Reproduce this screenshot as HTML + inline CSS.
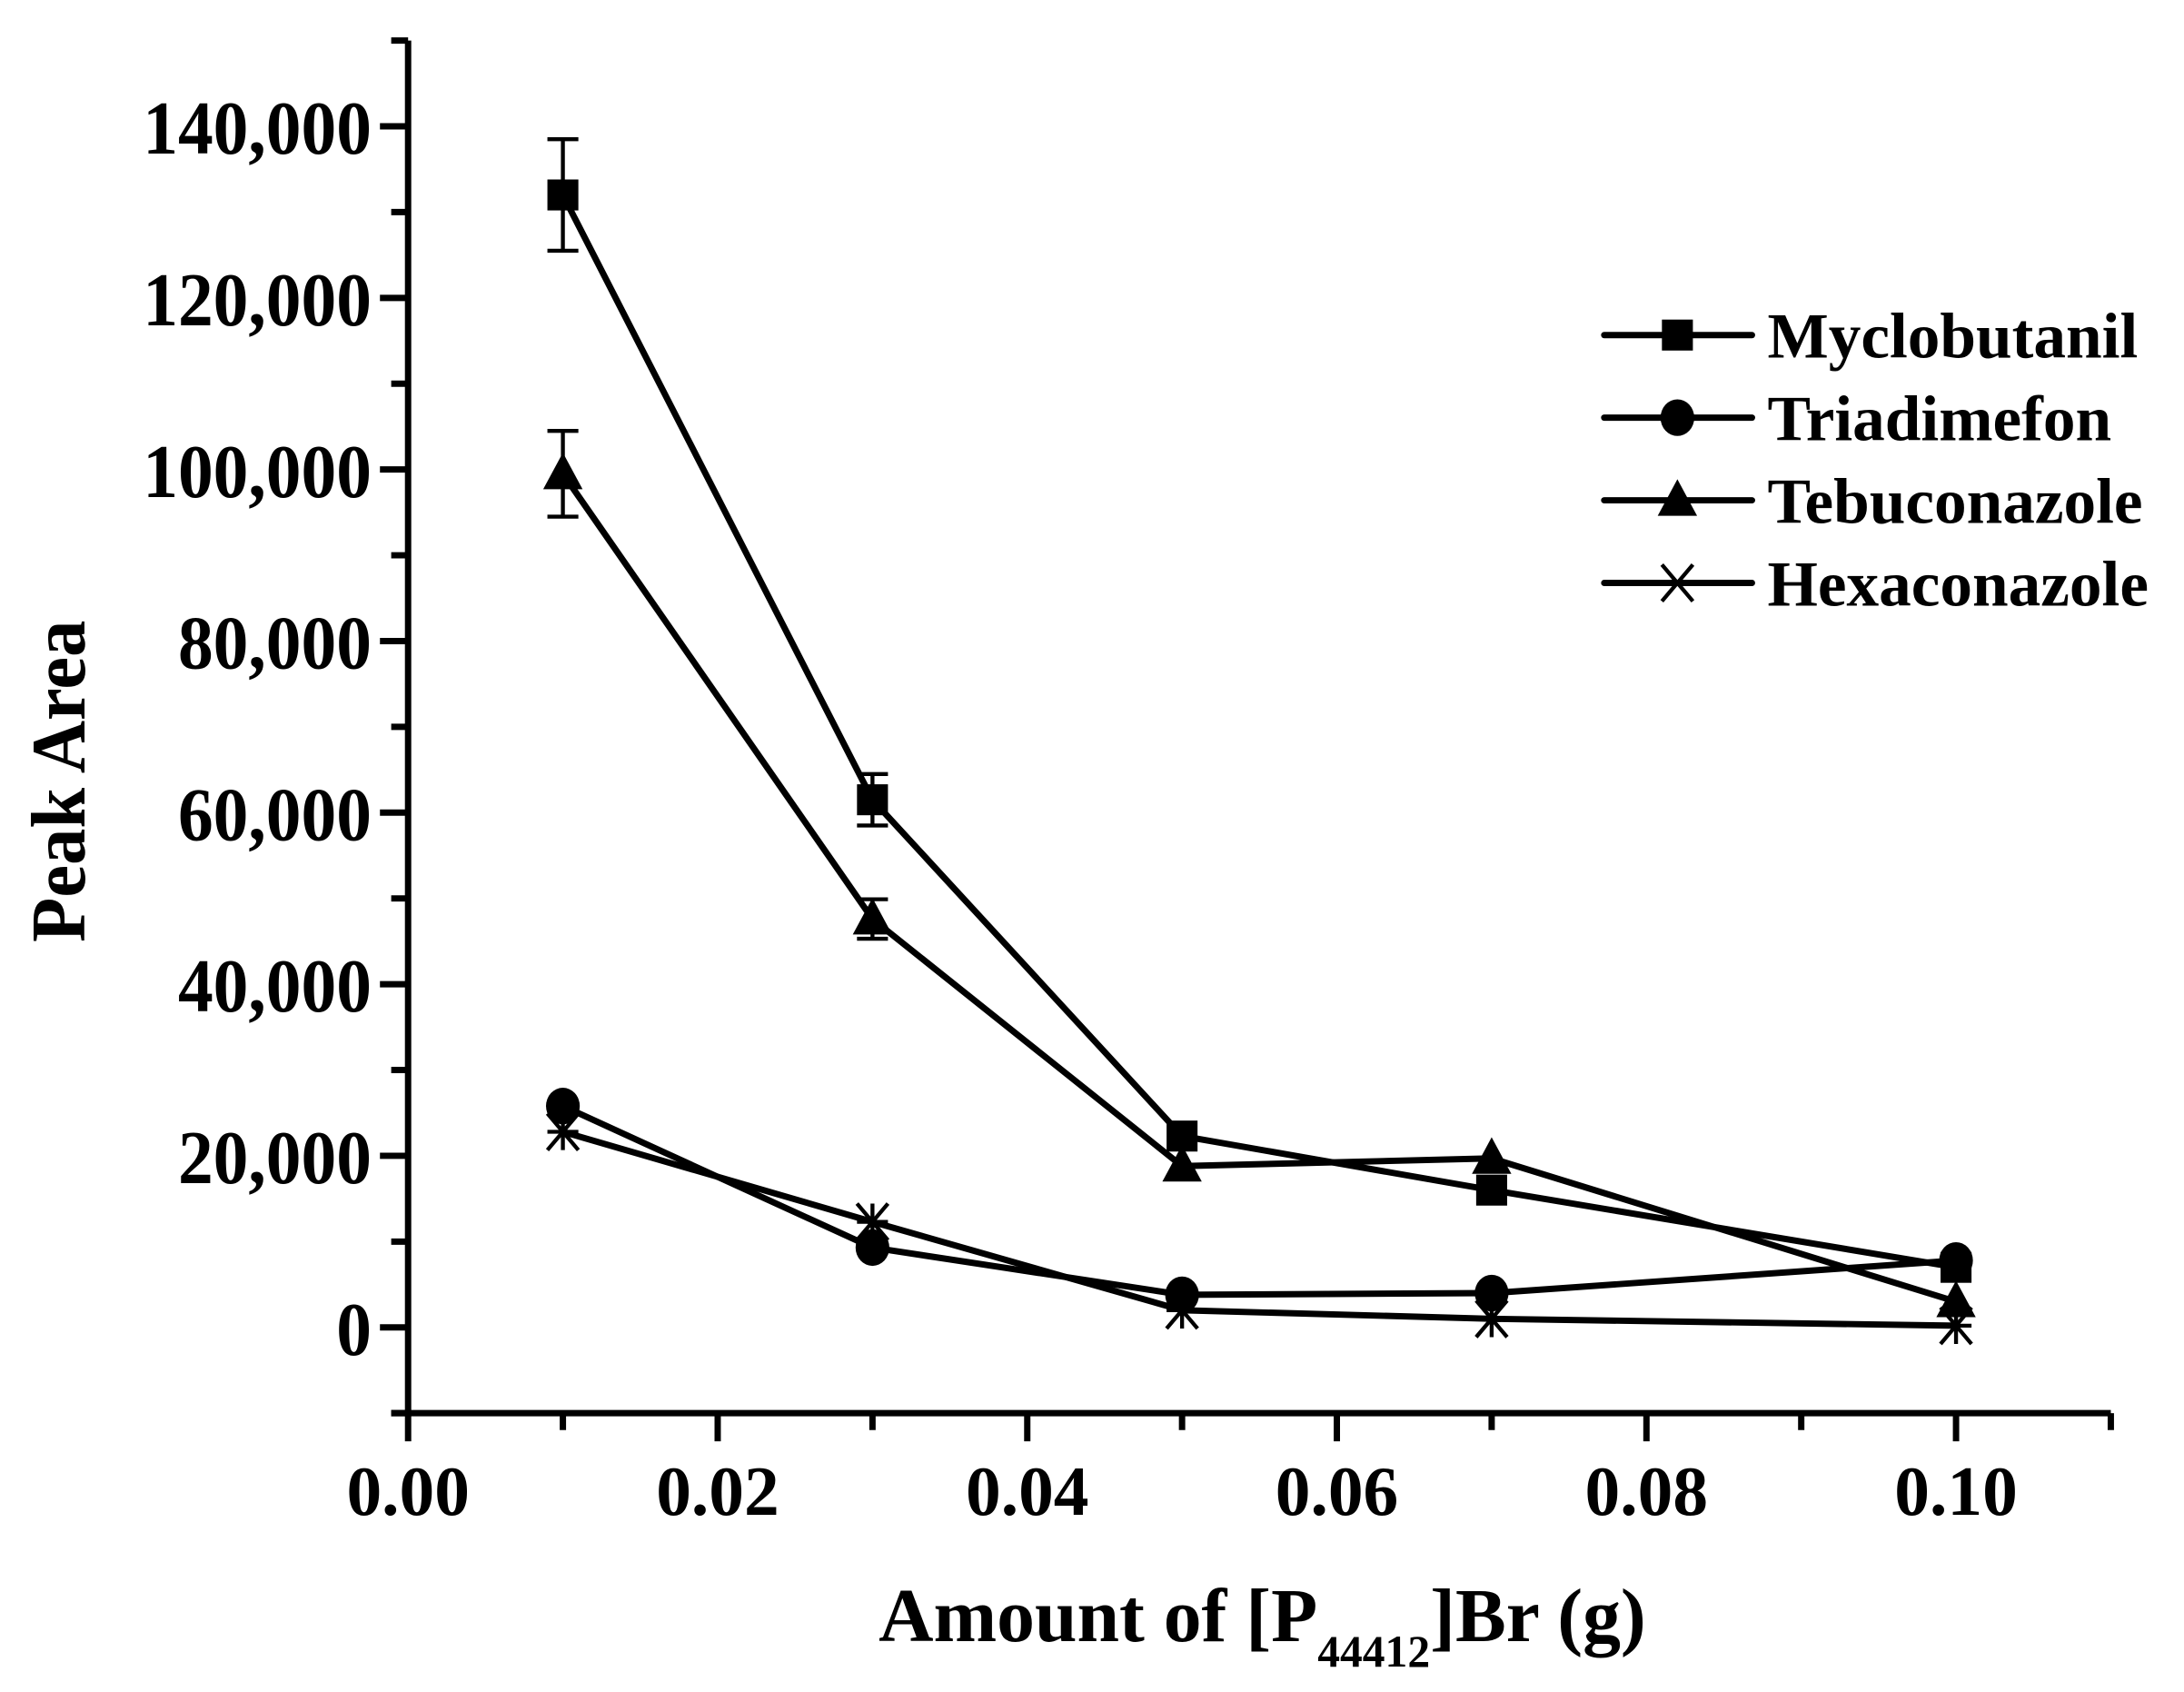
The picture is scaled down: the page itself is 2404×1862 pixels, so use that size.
<!DOCTYPE html>
<html><head><meta charset="utf-8"><style>
html,body{margin:0;padding:0;background:#fff;}
svg{display:block;}
text{font-family:"Liberation Serif",serif;font-weight:bold;fill:#000;}
</style></head><body>
<svg id="chart" xmlns="http://www.w3.org/2000/svg" width="2404" height="1862" viewBox="0 0 1552 1202">
<g id="axes"></g>
<g id="series"></g>
<g id="legend"></g>
<text transform="translate(60,555) rotate(-90) scale(1,1.05)" text-anchor="middle" font-size="52">Peak Area</text>
<text x="897" y="1166" text-anchor="middle" font-size="54">Amount of [P<tspan font-size="32" dy="18">44412</tspan><tspan dy="-18">]Br (g)</tspan></text>
</svg>
<script>
const xValues = [0.01, 0.03, 0.05, 0.07, 0.10];
const seriesNames = ["Myclobutanil", "Triadimefon", "Tebuconazole", "Hexaconazole"];
const myclobutanil = [132000, 61500, 22300, 16000, 7000];
const myclobutanilErr = [6500, 3000, 0, 0, 0];
const triadimefon = [25800, 9300, 3800, 4000, 7800];
const tebuconazole = [99500, 47600, 18800, 19700, 3000];
const tebuconazoleErr = [5000, 2300, 0, 0, 0];
const hexaconazole = [22800, 12300, 2000, 1000, 200];
const yTicks = [0, 20000, 40000, 60000, 80000, 100000, 120000, 140000];
const yTickLabels = ["0", "20,000", "40,000", "60,000", "80,000", "100,000", "120,000", "140,000"];
const xTicks = [0, 0.02, 0.04, 0.06, 0.08, 0.10];
const xTickLabels = ["0.00", "0.02", "0.04", "0.06", "0.08", "0.10"];

const NS = "http://www.w3.org/2000/svg";
const X0 = 290, XPU = 11000;
const Y0 = 943, YPU = 121.9 / 20000;
const xs = v => X0 + v * XPU;
const ys = v => Y0 - v * YPU;
function mk(tag, attrs, parent) {
  const e = document.createElementNS(NS, tag);
  for (const k in attrs) e.setAttribute(k, attrs[k]);
  parent.appendChild(e);
  return e;
}
const axes = document.getElementById('axes');
const LW = 4.5;
let e = mk('line', {x1: X0, y1: ys(150000), x2: X0, y2: ys(-10000), stroke: '#000', 'stroke-width': LW}, axes);


e = mk('line', {x1: X0 - 12, y1: ys(-10000), x2: xs(0.11), y2: ys(-10000), stroke: '#000', 'stroke-width': LW}, axes);


for (let v = -10000; v <= 150000; v += 10000) {
  const major = v % 20000 === 0;
  e = mk('line', {x1: X0 - (major ? 20 : 12), y1: ys(v), x2: X0, y2: ys(v), stroke: '#000', 'stroke-width': LW}, axes);
  
  
}
yTicks.forEach((v, i) => {
  const t = mk('text', {x: X0 - 26, y: ys(v) + 18, 'text-anchor': 'end', 'font-size': 50, transform: `translate(0,${ys(v)}) scale(1,1.08) translate(0,${-ys(v)})`}, axes);
  t.textContent = yTickLabels[i];
  
  
});
for (let k = 0; k <= 11; k++) {
  const v = k / 100, major = k % 2 === 0;
  e = mk('line', {x1: xs(v), y1: ys(-10000), x2: xs(v), y2: ys(-10000) + (major ? 20 : 12), stroke: '#000', 'stroke-width': LW}, axes);
  
  
}
xTicks.forEach((v, i) => {
  const t = mk('text', {x: xs(v), y: 1076, 'text-anchor': 'middle', 'font-size': 50}, axes);
  t.textContent = xTickLabels[i];
  
  
});

function marker(type, cx, cy, g) {
  let m;
  if (type === 'square') m = mk('rect', {x: cx - 11, y: cy - 11, width: 22, height: 22, fill: '#000'}, g);
  else if (type === 'circle') m = mk('ellipse', {cx: cx, cy: cy, rx: 12, ry: 13, fill: '#000'}, g);
  else if (type === 'triangle') m = mk('polygon', {points: `${cx},${cy-15} ${cx+14},${cy+11} ${cx-14},${cy+11}`, fill: '#000'}, g);
  else {
    m = mk('path', {d: `M${cx-11},${cy-13}L${cx+11},${cy+13}M${cx+11},${cy-13}L${cx-11},${cy+13}M${cx},${cy-13}L${cx},${cy+13}M${cx-11},${cy}L${cx+11},${cy}`, stroke: '#000', 'stroke-width': 2.8, fill: 'none'}, g);
  }
  return m;
}
const allSeries = [[myclobutanil, 'square', myclobutanilErr], [triadimefon, 'circle', null], [tebuconazole, 'triangle', tebuconazoleErr], [hexaconazole, 'x', null]];
const sg = document.getElementById('series');
allSeries.forEach(([vals, mt, err], si) => {
  const g = mk('g', {}, sg);
  
  
  const pl = mk('polyline', {points: vals.map((v, i) => xs(xValues[i]) + ',' + ys(v)).join(' '), fill: 'none', stroke: '#000', 'stroke-width': LW, 'stroke-linejoin': 'round'}, g);
  
  
  vals.forEach((v, i) => {
    if (err && err[i] > 0) {
      const cx = xs(xValues[i]);
      const eb = mk('path', {d: `M${cx},${ys(v + err[i])}V${ys(v - err[i])}M${cx-11},${ys(v + err[i])}H${cx+11}M${cx-11},${ys(v - err[i])}H${cx+11}`, stroke: '#000', 'stroke-width': 2.8, fill: 'none'}, g);
      
      
    }
    const m = marker(mt, xs(xValues[i]), ys(v), g);
    
    
  });
});
const lg = document.getElementById('legend');
const types = ['square', 'circle', 'triangle', 'x'];
seriesNames.forEach((n, i) => {
  const y = 238 + i * 58.7;
  const g = mk('g', {}, lg);
  
  
  mk('line', {x1: 1140, y1: y, x2: 1245, y2: y, stroke: '#000', 'stroke-width': LW, 'stroke-linecap': 'round'}, g);
  if (types[i] === 'x') {
    mk('path', {d: `M${1181},${y-13}L${1203},${y+13}M${1203},${y-13}L${1181},${y+13}`, stroke: '#000', 'stroke-width': 2.8}, g);
  } else marker(types[i], 1192, y, g);
  const t = mk('text', {x: 1256, y: y + 16, 'font-size': 46}, g);
  t.textContent = n;
});
</script>
</body></html>
